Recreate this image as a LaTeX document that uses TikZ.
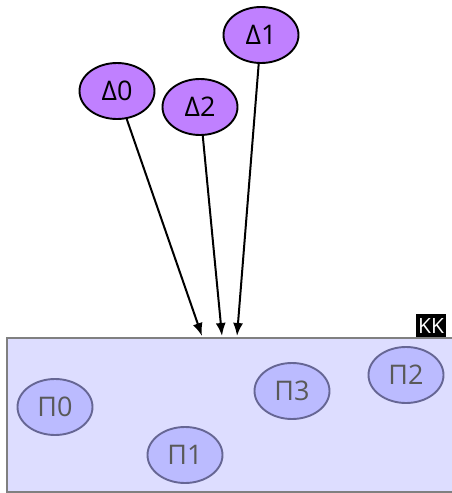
\documentclass[tikz,border=0pt]{standalone}
\usepackage{fontspec}
\setmainfont{Open Sans}
\usetikzlibrary{arrows.meta, shapes.geometric}

\definecolor{procfill}{HTML}{C080FF}
\definecolor{nodefill}{HTML}{BBBBFF}
\definecolor{clusterfill}{HTML}{DDDDFF}

\begin{document}
\begin{tikzpicture}[x=1pt, y=-1pt,
    proc/.style={ellipse, draw=black, line width=1.9pt, fill=procfill,
        minimum width=75pt, minimum height=56pt, inner sep=0pt, font=\fontsize{27}{29}\selectfont},
    pnode/.style={ellipse, draw=black!70!blue!60, line width=1.9pt, fill=nodefill, text=black!65,
        minimum width=75pt, minimum height=56pt, inner sep=0pt, font=\fontsize{27}{29}\selectfont},
    link/.style={-{Latex[length=13pt, width=10pt]}, line width=2pt}]
    \useasboundingbox (0,0) rectangle (452,493);

    % Cluster
    \draw[fill=clusterfill, draw=black!50, line width=2pt] (7,338) rectangle (456,492);
    \node[fill=black, text=white, inner xsep=2.5pt, inner ysep=4pt, font=\fontsize{21}{21}\selectfont] (kk) at (431,325.5) {KK};

    % Nodes inside
    \node[pnode] (p0) at (55,407) {Π0};
    \node[pnode] (p1) at (185,455) {Π1};
    \node[pnode] (p3) at (292,391) {Π3};
    \node[pnode] (p2) at (406,375) {Π2};

    % Incoming processes
    \node[proc] (d0) at (117,91) {Δ0};
    \node[proc] (d2) at (200,107) {Δ2};
    \node[proc] (d1) at (261,35) {Δ1};

    % Entry points
    \coordinate (in0) at (202,336);
    \coordinate (in2) at (222,336);
    \coordinate (in1) at (237,336);

    \draw[link] (d0) -- (in0);
    \draw[link] (d2) -- (in2);
    \draw[link] (d1) -- (in1);
\end{tikzpicture}
\end{document}
